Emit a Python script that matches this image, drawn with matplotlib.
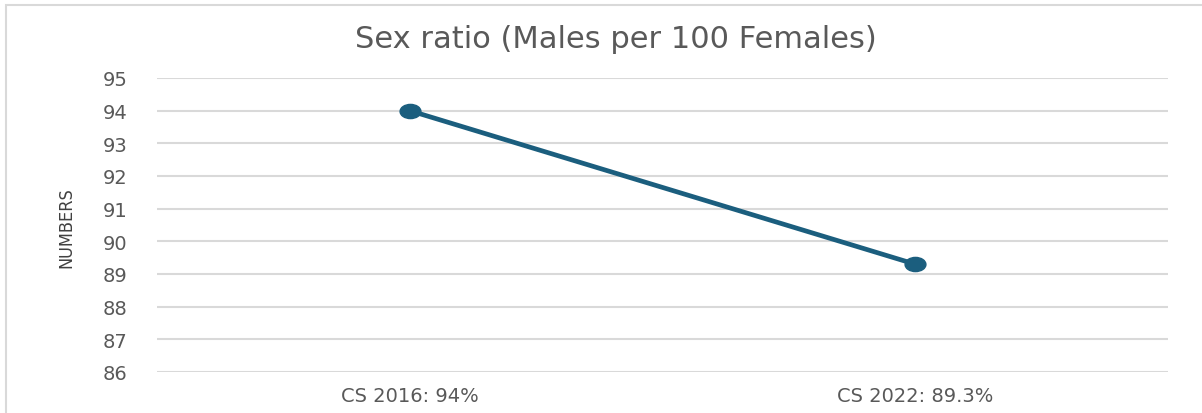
import matplotlib
matplotlib.use("Agg")
import matplotlib.pyplot as plt
from matplotlib.patches import Rectangle
from matplotlib.path import Path
from matplotlib.transforms import Affine2D

categories = ["CS 2016: 94%", "CS 2022: 89.3%"]
values = [94.0, 89.3]
yticks = [86, 87, 88, 89, 90, 91, 92, 93, 94, 95]

W, H = 1202, 414
fig = plt.figure(figsize=(W / 100, H / 100), dpi=100)
fig.patch.set_facecolor("white")

fig.patches.append(Rectangle((6 / W, -0.5), 2.0, 1.5 - 6 / H, transform=fig.transFigure,
                             fill=False, edgecolor="#d9d9d9", linewidth=1.5))

ellipse = Path.unit_circle().transformed(Affine2D().scale(1.0, 0.68))

ax = fig.add_axes([157 / W, 1 - 373 / H, (1168 - 157) / W, (373 - 79) / H])
x = list(range(len(categories)))
ax.plot(x, values, color="#1b5e7e", linewidth=3.4, marker=ellipse, markersize=15,
        solid_capstyle="round", zorder=3)
ax.set_xlim(-0.5, len(categories) - 0.5)
ax.set_ylim(86, 95)
ax.set_yticks(yticks)
ax.set_xticks(x)
ax.set_xticklabels(categories)
ax.grid(axis="y", color="#d9d9d9", linewidth=1.5)
ax.set_axisbelow(True)
for s in ax.spines.values():
    s.set_visible(False)
ax.tick_params(axis="both", length=0, colors="#595959", labelsize=14)
ax.tick_params(axis="y", pad=21)
ax.tick_params(axis="x", pad=10)
for lab in ax.get_xticklabels() + ax.get_yticklabels():
    lab.set_family(["DejaVu Sans"])

fig.text(66 / W, 1 - 228 / H, "NUMBERS", rotation=90, ha="center", va="center",
         fontsize=13, color="#404040", fontstretch="condensed",
         family=["DejaVu Sans"])

fig.text(616 / W, 1 - 39 / H, "Sex ratio (Males per 100 Females)", ha="center", va="center",
         fontsize=22, color="#595959", family=["DejaVu Sans"])

fig.savefig("out.png", dpi=100)
